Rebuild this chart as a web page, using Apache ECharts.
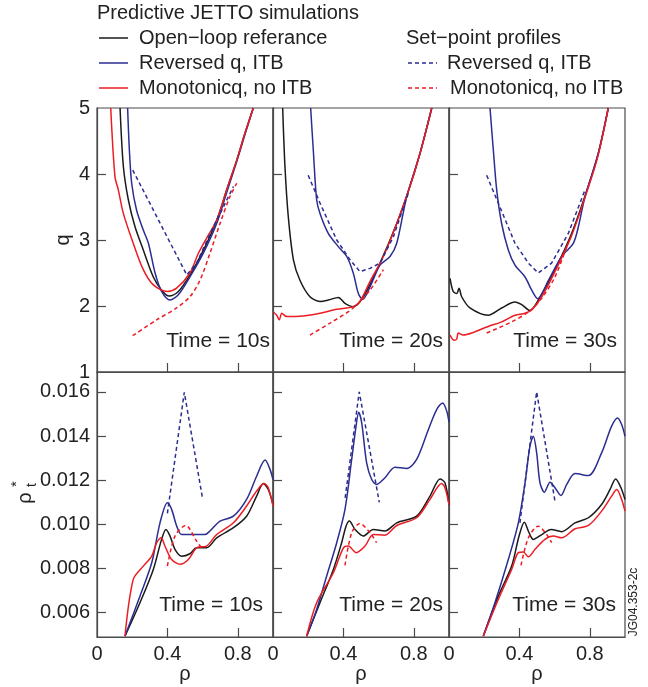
<!DOCTYPE html>
<html lang="en">
<head>
    <meta charset="UTF-8">
    <title>JETTO q and rho*t profiles</title>
    <style type="text/css">
        body{margin:0;background:#fff;}
        #main{width:648px;height:687px;}
    </style>
</head>
<body>
<div id="main"></div>
<script src="https://cdn.jsdelivr.net/npm/echarts@6/dist/echarts.min.js"></script>
<script>
    // q profiles, [rho, q]
    var q10Open  = [[0.131,5.0],[0.15,4.11],[0.178,3.61],[0.216,3.20],[0.263,2.85],[0.32,2.44],[0.367,2.24],[0.41,2.15],[0.462,2.22],[0.528,2.47],[0.60,2.82],[0.68,3.30],[0.737,3.76],[0.794,4.21],[0.841,4.62],[0.888,5.0]];
    var q10Rev   = [[0.174,5.0],[0.184,4.36],[0.197,3.86],[0.225,3.45],[0.263,3.15],[0.292,2.95],[0.33,2.50],[0.367,2.22],[0.415,2.09],[0.462,2.17],[0.528,2.44],[0.604,2.80],[0.68,3.25],[0.737,3.72],[0.794,4.19],[0.841,4.60],[0.888,5.0]];
    var q10Mono  = [[0.078,5.0],[0.102,3.96],[0.121,3.76],[0.15,3.40],[0.206,2.95],[0.263,2.55],[0.32,2.32],[0.40,2.22],[0.452,2.27],[0.528,2.50],[0.576,2.80],[0.623,3.03],[0.68,3.30],[0.737,3.76],[0.794,4.21],[0.841,4.62],[0.888,5.0]];
    var q10RevSp = [[0.203,4.06],[0.51,2.47],[0.566,2.65],[0.661,3.20],[0.718,3.50],[0.775,3.81]];
    var q10MonoSp= [[0.203,1.55],[0.339,1.79],[0.452,1.97],[0.528,2.14],[0.585,2.39],[0.642,2.80],[0.699,3.25],[0.756,3.66],[0.794,3.86]];

    var q20Open  = [[0.055,5.0],[0.068,4.11],[0.087,3.35],[0.116,2.70],[0.153,2.39],[0.21,2.14],[0.267,2.07],[0.314,2.09],[0.371,2.13],[0.409,2.04],[0.456,1.99],[0.513,2.14],[0.608,2.65],[0.703,3.25],[0.778,3.81],[0.835,4.31],[0.902,5.0]];
    var q20Rev   = [[0.214,5.0],[0.229,4.36],[0.248,3.61],[0.267,3.40],[0.314,3.10],[0.371,2.90],[0.419,2.75],[0.456,2.50],[0.485,2.19],[0.51,2.10],[0.551,2.29],[0.608,2.62],[0.665,2.75],[0.703,2.95],[0.76,3.66],[0.835,4.31],[0.902,5.0]];
    var q20Mono  = [[0.002,1.91],[0.021,1.86],[0.036,1.79],[0.05,1.89],[0.078,1.84],[0.172,1.85],[0.267,1.89],[0.362,1.95],[0.456,1.99],[0.494,2.07],[0.551,2.37],[0.627,2.75],[0.703,3.25],[0.778,3.81],[0.835,4.31],[0.902,5.0]];
    var q20RevSp = [[0.20,3.98],[0.267,3.56],[0.362,3.0],[0.438,2.70],[0.494,2.52],[0.551,2.57],[0.608,2.65],[0.684,3.05],[0.769,3.71]];
    var q20MonoSp= [[0.21,1.56],[0.324,1.74],[0.456,1.97],[0.551,2.24],[0.627,2.55]];

    var q30Open  = [[0.006,2.42],[0.024,2.22],[0.044,2.19],[0.057,2.27],[0.072,2.14],[0.119,1.97],[0.223,1.86],[0.299,1.97],[0.375,2.06],[0.413,2.02],[0.46,1.93],[0.507,2.09],[0.602,2.55],[0.697,3.10],[0.791,3.81],[0.848,4.31],[0.905,5.0]];
    var q30Rev   = [[0.233,5.0],[0.252,4.36],[0.271,3.76],[0.299,3.25],[0.337,2.85],[0.375,2.62],[0.432,2.44],[0.47,2.24],[0.504,2.11],[0.565,2.39],[0.64,2.75],[0.706,2.95],[0.735,3.20],[0.773,3.66],[0.848,4.31],[0.905,5.0]];
    var q30Mono  = [[0.006,1.56],[0.03,1.48],[0.044,1.50],[0.053,1.59],[0.081,1.56],[0.129,1.59],[0.223,1.69],[0.299,1.76],[0.375,1.86],[0.432,1.89],[0.47,1.94],[0.527,2.14],[0.602,2.52],[0.697,3.07],[0.791,3.79],[0.848,4.29],[0.905,5.0]];
    var q30RevSp = [[0.214,3.98],[0.28,3.56],[0.375,2.95],[0.451,2.65],[0.507,2.50],[0.583,2.65],[0.678,3.10],[0.773,3.76]];
    var q30MonoSp= [[0.214,1.59],[0.356,1.76],[0.451,1.91],[0.527,2.12],[0.602,2.44],[0.669,2.90]];

    // rho*_t profiles, [rho, rho*_t]
    var r10Open  = [[0.159,0.00494],[0.244,0.00645],[0.32,0.00796],[0.367,0.00932],[0.392,0.00977],[0.415,0.00947],[0.443,0.00887],[0.481,0.00856],[0.528,0.00867],[0.566,0.00894],[0.623,0.00894],[0.68,0.00939],[0.775,0.00985],[0.85,0.01037],[0.907,0.01128],[0.945,0.01185],[0.973,0.01158],[1.0,0.0109]];
    var r10Rev   = [[0.159,0.00494],[0.244,0.00675],[0.311,0.00826],[0.358,0.01007],[0.40,0.01098],[0.424,0.01068],[0.453,0.00992],[0.481,0.00954],[0.547,0.00954],[0.614,0.00954],[0.642,0.0097],[0.699,0.01015],[0.775,0.01037],[0.85,0.01113],[0.907,0.01218],[0.955,0.01291],[0.983,0.01249],[1.0,0.01203]];
    var r10Mono  = [[0.159,0.00494],[0.206,0.00751],[0.263,0.00811],[0.311,0.00856],[0.339,0.00917],[0.364,0.00939],[0.386,0.00902],[0.424,0.00841],[0.472,0.00819],[0.519,0.00841],[0.566,0.00894],[0.623,0.00902],[0.68,0.00954],[0.775,0.01007],[0.85,0.01083],[0.907,0.01151],[0.949,0.01185],[0.973,0.01166],[1.0,0.01083]];
    var r10RevSp = [[0.40,0.0105],[0.496,0.01598],[0.598,0.01125]];
    var r10MonoSp= [[0.40,0.00811],[0.443,0.00947],[0.504,0.00995],[0.566,0.00924],[0.594,0.00894]];

    var r20Open  = [[0.191,0.00494],[0.267,0.00645],[0.343,0.00796],[0.39,0.00917],[0.415,0.00992],[0.434,0.01015],[0.466,0.00977],[0.513,0.00947],[0.57,0.00977],[0.636,0.0097],[0.703,0.01007],[0.816,0.01037],[0.892,0.01128],[0.949,0.01206],[0.977,0.01188],[1.0,0.0109]];
    var r20Rev   = [[0.191,0.00494],[0.248,0.00615],[0.305,0.00766],[0.362,0.00917],[0.409,0.01068],[0.447,0.01294],[0.472,0.01445],[0.487,0.01508],[0.504,0.0146],[0.532,0.01279],[0.561,0.01203],[0.589,0.01181],[0.636,0.01211],[0.693,0.01259],[0.76,0.01253],[0.816,0.01294],[0.883,0.0143],[0.93,0.0152],[0.964,0.0155],[0.987,0.01513],[1.0,0.01463]];
    var r20Mono  = [[0.191,0.00494],[0.248,0.00645],[0.343,0.00781],[0.40,0.00894],[0.428,0.00902],[0.472,0.00872],[0.523,0.00902],[0.57,0.00954],[0.636,0.00951],[0.703,0.00995],[0.816,0.0103],[0.892,0.01113],[0.958,0.01185],[0.977,0.01166],[1.0,0.0109]];
    var r20RevSp = [[0.41,0.0112],[0.49,0.016],[0.604,0.011]];
    var r20MonoSp= [[0.409,0.00814],[0.447,0.00962],[0.494,0.01004],[0.551,0.00962],[0.589,0.00917]];

    var r30Open  = [[0.195,0.00494],[0.28,0.00675],[0.356,0.00811],[0.398,0.00947],[0.428,0.0101],[0.455,0.00962],[0.479,0.00932],[0.527,0.00954],[0.58,0.00977],[0.64,0.00967],[0.716,0.01007],[0.792,0.0103],[0.867,0.0109],[0.915,0.01158],[0.947,0.01206],[0.977,0.01166],[1.0,0.01113]];
    var r30Rev   = [[0.195,0.00494],[0.261,0.00645],[0.337,0.00841],[0.394,0.01007],[0.432,0.01188],[0.46,0.01354],[0.479,0.01399],[0.498,0.01324],[0.517,0.01188],[0.542,0.01146],[0.574,0.01191],[0.602,0.01166],[0.636,0.01131],[0.669,0.01181],[0.716,0.0123],[0.792,0.01221],[0.867,0.01324],[0.924,0.01445],[0.958,0.01482],[0.981,0.01452],[1.0,0.01399]];
    var r30Mono  = [[0.195,0.00494],[0.28,0.0066],[0.356,0.00796],[0.394,0.00872],[0.422,0.00875],[0.451,0.00853],[0.489,0.00887],[0.545,0.00932],[0.593,0.00947],[0.64,0.00939],[0.716,0.0098],[0.792,0.00995],[0.867,0.0106],[0.924,0.01128],[0.953,0.01158],[0.981,0.01113],[1.0,0.0106]];
    var r30RevSp = [[0.403,0.01007],[0.498,0.016],[0.602,0.01105]];
    var r30MonoSp= [[0.409,0.00814],[0.451,0.00939],[0.507,0.00992],[0.555,0.00954],[0.583,0.00917]];

    var times = ['Time = 10s', 'Time = 20s', 'Time = 30s'];
    var xTicks = [0, 0.4, 0.8];
    var qTicks = [1, 2, 3, 4, 5];
    var rTicks = [0.006, 0.008, 0.010, 0.012, 0.014, 0.016];

    var panels = [
        [q10Open, q10Rev, q10Mono, q10RevSp, q10MonoSp],
        [q20Open, q20Rev, q20Mono, q20RevSp, q20MonoSp],
        [q30Open, q30Rev, q30Mono, q30RevSp, q30MonoSp],
        [r10Open, r10Rev, r10Mono, r10RevSp, r10MonoSp],
        [r20Open, r20Rev, r20Mono, r20RevSp, r20MonoSp],
        [r30Open, r30Rev, r30Mono, r30RevSp, r30MonoSp]
    ];

    var BLACK = '#1a1a1a', BLUE = '#2b2d91', RED = '#ec1c24';
    var FONT = '"Liberation Sans", Arial, Helvetica, sans-serif';
    var frame = '#4a4a4a';

    var grids = [], xAxes = [], yAxes = [], series = [], graphics = [];

    for (var i = 0; i < 6; i++) {
        var row = Math.floor(i / 3), col = i % 3;
        grids.push({
            left: 97 + 176 * col,
            top: row === 0 ? 108 : 372,
            width: 176,
            height: row === 0 ? 264 : 265,
            show: true,
            borderColor: frame,
            borderWidth: 1.2,
            backgroundColor: 'transparent',
            containLabel: false,
            outerBoundsMode: 'none'
        });
        xAxes.push({
            type: 'value', gridIndex: i, min: 0, max: 1,
            axisLine: {show: true, lineStyle: {color: frame, width: 1.2}},
            axisTick: {show: true, inside: true, length: 9, customValues: [0.4, 0.8],
                lineStyle: {color: frame, width: 1.2}},
            axisLabel: {show: row === 1, customValues: xTicks, margin: 7,
                color: '#222', fontSize: 20, fontFamily: FONT},
            splitLine: {show: false},
            name: row === 1 ? 'ρ' : '',
            nameLocation: 'middle',
            nameGap: 22,
            nameTextStyle: {color: '#222', fontSize: 20, fontFamily: FONT}
        });
        yAxes.push({
            type: 'value', gridIndex: i,
            min: row === 0 ? 1 : 0.0049,
            max: row === 0 ? 5 : 0.0169,
            axisLine: {show: true, lineStyle: {color: frame, width: 1.2}},
            axisTick: {show: true, inside: true, length: 9,
                customValues: row === 0 ? [2, 3, 4] : rTicks,
                lineStyle: {color: frame, width: 1.2}},
            axisLabel: {show: col === 0, customValues: row === 0 ? qTicks : rTicks, margin: 7,
                color: '#222', fontSize: 20, fontFamily: FONT,
                formatter: function (v) { return v < 1 ? v.toFixed(3) : String(v); }},
            splitLine: {show: false}
        });

        var p = panels[i];
        var styles = [
            {c: BLACK, dash: 'solid', smooth: 0.3},
            {c: BLUE, dash: 'solid', smooth: 0.3},
            {c: RED, dash: 'solid', smooth: 0.3},
            {c: BLUE, dash: [4, 3], smooth: false},
            {c: RED, dash: [4, 3], smooth: 0.3}
        ];
        for (var k = 0; k < 5; k++) {
            series.push({
                type: 'line', xAxisIndex: i, yAxisIndex: i,
                data: p[k], symbol: 'none', smooth: styles[k].smooth, clip: true,
                lineStyle: {color: styles[k].c, width: 1.5, type: styles[k].dash},
                silent: true, animation: false
            });
        }

        graphics.push({
            type: 'text',
            x: [270, 443, 617, 263, 443, 616][i],
            y: row === 0 ? 341 : 605,
            style: {text: times[col], fill: '#222', fontSize: 21, fontFamily: FONT,
                align: 'right', verticalAlign: 'middle'}
        });
    }

    // legend block
    var legRows = [38, 63, 88];
    var legNames = ['Open\u2212loop referance', 'Reversed q, ITB', 'Monotonicq, no ITB'];
    var legCols = [BLACK, BLUE, RED];
    graphics.push({type: 'text', x: 97, y: 13,
        style: {text: 'Predictive JETTO simulations', fill: '#222', fontSize: 20, fontFamily: FONT, verticalAlign: 'middle'}});
    graphics.push({type: 'text', x: 406, y: 38,
        style: {text: 'Set\u2212point profiles', fill: '#222', fontSize: 20, fontFamily: FONT, verticalAlign: 'middle'}});
    for (var j = 0; j < 3; j++) {
        graphics.push({type: 'line', shape: {x1: 99, y1: legRows[j], x2: 128, y2: legRows[j]},
            style: {stroke: legCols[j], lineWidth: 1.5}});
        graphics.push({type: 'text', x: 139, y: legRows[j],
            style: {text: legNames[j], fill: '#222', fontSize: 20, fontFamily: FONT, verticalAlign: 'middle'}});
    }
    for (var j = 1; j < 3; j++) {
        graphics.push({type: 'line', shape: {x1: 408, y1: legRows[j], x2: 437, y2: legRows[j]},
            style: {stroke: legCols[j], lineWidth: 1.5, lineDash: [4, 3]}});
        graphics.push({type: 'text', x: j === 1 ? 447 : 450, y: legRows[j],
            style: {text: legNames[j], fill: '#222', fontSize: 20, fontFamily: FONT, verticalAlign: 'middle'}});
    }

    // y axis names
    graphics.push({type: 'text', x: 63, y: 240, rotation: Math.PI / 2,
        style: {text: 'q', fill: '#222', fontSize: 20, fontFamily: FONT, align: 'center', verticalAlign: 'middle'}});
    graphics.push({type: 'group', x: 25, y: 492, rotation: Math.PI / 2, children: [
        {type: 'text', x: -6, y: 0, style: {text: 'ρ', fill: '#222', fontSize: 20, fontFamily: FONT, align: 'center', verticalAlign: 'middle'}},
        {type: 'text', x: 5, y: -8, style: {text: '*', fill: '#222', fontSize: 15, fontFamily: FONT, align: 'left', verticalAlign: 'middle'}},
        {type: 'text', x: 5, y: 7, style: {text: 't', fill: '#222', fontSize: 14, fontFamily: FONT, align: 'left', verticalAlign: 'middle'}}
    ]});
    graphics.push({type: 'text', x: 634, y: 602, rotation: Math.PI / 2,
        style: {text: 'JG04.353-2c', fill: '#222', fontSize: 12, fontFamily: FONT, align: 'center', verticalAlign: 'middle'}});

    var myChart = echarts.init(document.getElementById('main'), null, {renderer: 'canvas'});
    myChart.setOption({
        backgroundColor: '#fff',
        animation: false,
        grid: grids,
        xAxis: xAxes,
        yAxis: yAxes,
        series: series,
        graphic: graphics
    });
</script>
</body>
</html>
